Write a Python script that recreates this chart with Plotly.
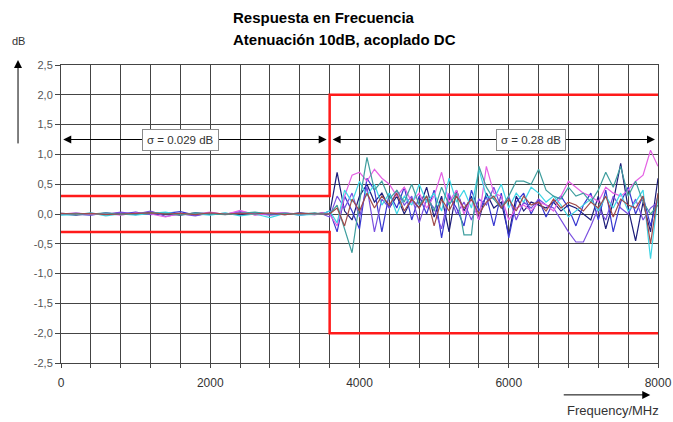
import plotly.graph_objects as go

# Frequency sampling (MHz): coarse below the limit step, finer above it
freq_low = list(range(0, 3600, 200))
freq_high = list(range(3500, 8100, 100))
freq = freq_low + freq_high

# Measured response (dB) per trace, low band then high band
navy_low = [0.0, -0.02, 0.01, 0.0, 0.02, -0.01, 0.03, 0.0, -0.02, 0.02, 0.0, 0.01, -0.01, 0.02, 0.01, -0.01, 0.02, 0.0]
navy_high = [0.02, 0.0, 0.7, 0.05, -0.1, 0.3, 0.5, 0.2, 0.35, 0.1, 0.3, 0.0, 0.25, 0.1, 0.45, -0.05, 0.3, -0.3, 0.4, 0.05,
             0.3, -0.1, 0.35, 0.1, 0.2, -0.35, 0.3, 0.05, 0.2, 0.15, 0.1, 0.2, 0.05, 0.15, 0.1, 0.0, -0.1, 0.3, -0.25, 0.2,
             0.85, 0.1, -0.45, 0.2, -0.3, 0.6]
blue_low = [0.01, 0.0, -0.02, 0.02, 0.0, 0.03, -0.01, 0.01, 0.04, -0.02, 0.01, 0.0, 0.02, -0.01, 0.0, 0.02, -0.02, 0.01]
blue_high = [0.0, 0.05, -0.3, 0.3, 0.05, -0.25, 0.6, 0.4, -0.3, 0.35, 0.1, 0.45, -0.1, 0.3, 0.0, 0.4, -0.4, 0.3, 0.1, -0.2,
             0.4, 0.05, 0.3, -0.2, 0.35, -0.4, 0.2, 0.35, 0.0, 0.25, -0.05, 0.2, 0.3, 0.1, -0.2, 0.15, 0.35, -0.1, 0.4, -0.3,
             0.2, 0.45, 0.0, 0.3, -0.2, 0.3]
violet_low = [-0.01, 0.01, 0.0, -0.01, 0.03, 0.0, 0.05, -0.04, 0.0, -0.03, 0.02, 0.0, 0.04, 0.01, -0.02, 0.0, 0.01, -0.01]
violet_high = [0.0, -0.05, 0.3, 0.1, 0.35, -0.05, 0.45, -0.3, 0.25, 0.1, 0.4, 0.15, 0.3, -0.15, 0.25, 0.1, -0.25, 0.35, 0.0, 0.2,
               -0.1, 0.25, 0.15, 0.45, 0.1, 0.3, -0.1, 0.2, 0.1, 0.25, 0.15, 0.1, -0.1, -0.3, -0.47, -0.47, -0.2, 0.1, -0.1, 0.3,
               0.1, 0.0, 0.25, -0.1, 0.1, 0.2]
magenta_low = [0.0, 0.02, -0.01, 0.01, -0.02, 0.02, 0.0, -0.05, 0.01, 0.0, 0.03, -0.01, 0.06, -0.02, 0.01, 0.02, 0.0, -0.01]
magenta_high = [0.02, 0.0, -0.2, 0.3, 0.65, 0.7, 0.55, 0.75, 0.6, 0.5, 0.3, 0.45, 0.2, 0.35, 0.1, 0.3, 0.7, 0.2, 0.4, 0.0,
                0.25, -0.1, 0.8, 0.35, 0.3, -0.1, 0.1, 0.15, 0.05, 0.2, 0.15, 0.05, 0.3, 0.55, 0.45, 0.35, 0.3, 0.2, 0.45, 0.35,
                0.3, 0.4, 0.55, 0.65, 1.07, 0.8]
cyan_low = [-0.02, -0.01, 0.02, -0.03, 0.0, -0.02, 0.01, 0.03, -0.01, 0.0, -0.02, 0.02, -0.03, 0.0, -0.06, 0.01, -0.02, 0.0]
cyan_high = [0.0, 0.05, -0.15, 0.4, 0.2, 0.55, 0.3, 0.5, 0.15, 0.35, 0.0, 0.3, 0.15, 0.5, 0.2, 0.35, 0.05, 0.6, 0.2, 0.4,
             0.1, 0.75, 0.3, 0.25, 0.5, 0.1, 0.35, 0.2, 0.45, 0.35, 0.2, 0.3, 0.15, -0.05, 0.05, 0.15, 0.25, 0.05, 0.3, 0.1,
             0.35, 0.05, 0.2, 0.4, -0.75, 0.3]
teal_low = [0.0, 0.01, 0.0, 0.02, -0.01, 0.0, 0.02, 0.01, -0.01, 0.02, 0.0, -0.01, 0.01, 0.03, 0.0, 0.01, 0.0, 0.02]
teal_high = [0.0, 0.0, 0.15, -0.25, -0.65, 0.2, 0.95, 0.4, 0.55, 0.25, 0.4, 0.2, 0.5, 0.15, 0.3, 0.05, 0.45, 0.15, 0.35, -0.35,
             -0.35, 0.8, 0.45, 0.25, 0.1, 0.3, 0.55, 0.55, 0.5, 0.75, 0.4, 0.3, 0.25, 0.45, 0.3, 0.35, 0.2, 0.4, 0.7, 0.45,
             0.8, 0.3, 0.55, 0.2, 0.0, 0.15]
brown_low = [0.01, 0.0, 0.01, -0.01, 0.0, 0.01, 0.02, 0.0, 0.01, -0.01, 0.02, 0.0, 0.01, 0.0, 0.02, -0.01, 0.01, 0.0]
brown_high = [0.0, 0.0, 0.1, -0.2, 0.25, 0.05, 0.35, 0.1, 0.3, 0.15, 0.35, 0.05, 0.25, 0.1, 0.3, -0.2, 0.25, 0.05, 0.3, 0.1,
              0.25, 0.0, 0.2, 0.3, 0.1, 0.25, 0.05, 0.3, 0.15, 0.2, 0.05, 0.25, 0.1, 0.2, 0.15, 0.05, 0.2, 0.1, 0.3, -0.05,
              0.25, 0.15, 0.1, 0.3, -0.5, 0.35]

series = [
    ("navy", navy_low + navy_high, "#1c1c7a"),
    ("blue", blue_low + blue_high, "#3838d0"),
    ("violet", violet_low + violet_high, "#7a4fe0"),
    ("magenta", magenta_low + magenta_high, "#e461e4"),
    ("cyan", cyan_low + cyan_high, "#3fd6e6"),
    ("teal", teal_low + teal_high, "#3f9e9e"),
    ("brown", brown_low + brown_high, "#a04b4b"),
]

# Tolerance mask (dB)
limit_f = [0, 3600, 3600, 8000]
limit_upper = [0.3, 0.3, 2.0, 2.0]
limit_lower = [-0.3, -0.3, -2.0, -2.0]

# Axis ticks
x_ticks = [0, 2000, 4000, 6000, 8000]
y_ticks = [2.5, 2.0, 1.5, 1.0, 0.5, 0.0, -0.5, -1.0, -1.5, -2.0, -2.5]
y_labels = ["2,5", "2,0", "1,5", "1,0", "0,5", "0,0", "-0,5", "-1,0", "-1,5", "-2,0", "-2,5"]

# Standard deviation bands: (start, end, label position, text)
sigma_y = 1.25
sigma_bands = [
    (30, 3560, 1600, "σ = 0.029 dB"),
    (3640, 7960, 6300, "σ = 0.28 dB"),
]

fig = go.Figure()
for name, vals, color in series:
    fig.add_trace(go.Scatter(x=freq, y=vals, mode="lines", name=name,
                             line=dict(color=color, width=1.2)))
for lim in (limit_upper, limit_lower):
    fig.add_trace(go.Scatter(x=limit_f, y=lim, mode="lines",
                             line=dict(color="#ff1a1a", width=2.5)))

grid = "#444444"
fig.update_xaxes(range=[0, 8000], tickvals=x_ticks, showgrid=True, gridcolor=grid, gridwidth=1,
                 minor=dict(dtick=400, showgrid=True, gridcolor=grid, gridwidth=1,
                            ticks="outside", ticklen=4, tickcolor=grid),
                 ticks="outside", ticklen=4, tickcolor=grid, showline=True, linecolor=grid, mirror=True,
                 zeroline=False, automargin=False, ticklabelstandoff=5,
                 tickfont=dict(family="Arial", size=12, color="#333333"))
fig.update_yaxes(range=[-2.5, 2.5], tickvals=y_ticks, ticktext=y_labels, showgrid=True, gridcolor=grid,
                 gridwidth=1, ticks="outside", ticklen=5, tickcolor=grid, showline=True, linecolor=grid,
                 mirror=True, zeroline=False, automargin=False,
                 tickfont=dict(family="Arial", size=11, color="#555555"))

annotations = []
for start, end, mid, text in sigma_bands:
    for head in (start, end):
        annotations.append(dict(x=head, y=sigma_y, ax=mid, ay=sigma_y, xref="x", yref="y",
                                axref="x", ayref="y", text="", showarrow=True,
                                arrowhead=2, arrowsize=1.6, arrowwidth=1, arrowcolor="#000000"))
for start, end, mid, text in sigma_bands:
    annotations.append(dict(x=mid, y=sigma_y, xref="x", yref="y", text=text, showarrow=False,
                            font=dict(family="Arial", size=11.5, color="#333333"),
                            bgcolor="#ffffff", bordercolor="#8a8a8a", borderwidth=1, borderpad=4))

annotations += [
    dict(x=0.2855, y=1.161, xref="paper", yref="paper", xanchor="left", yanchor="middle", align="left",
         text="<b>Respuesta en Frecuencia</b>", showarrow=False,
         font=dict(family="Arial", size=15, color="#000000")),
    dict(x=0.2855, y=1.084, xref="paper", yref="paper", xanchor="left", yanchor="middle", align="left",
         text="<b>Atenuación 10dB, acoplado DC</b>", showarrow=False,
         font=dict(family="Arial", size=15, color="#000000")),
    dict(x=-0.072, y=1.08, xref="paper", yref="paper", xanchor="center", yanchor="middle",
         text="dB", showarrow=False, font=dict(family="Arial", size=11, color="#333333")),
    dict(x=-0.072, y=1.017, xref="paper", yref="paper", ax=0, ay=85, text="", showarrow=True,
         arrowhead=2, arrowsize=1.6, arrowwidth=1, arrowcolor="#000000"),
    dict(x=0.987, y=-0.107, xref="paper", yref="paper", ax=-88, ay=0, text="", showarrow=True,
         arrowhead=2, arrowsize=1.6, arrowwidth=1, arrowcolor="#000000"),
    dict(x=0.924, y=-0.161, xref="paper", yref="paper", xanchor="center", yanchor="middle",
         text="Frequency/MHz", showarrow=False, font=dict(family="Arial", size=13, color="#333333")),
]

fig.update_layout(width=673, height=422, margin=dict(l=61, r=15, t=65, b=59),
                  paper_bgcolor="#ffffff", plot_bgcolor="#ffffff", showlegend=False,
                  annotations=annotations)

fig.write_html("out.html")
